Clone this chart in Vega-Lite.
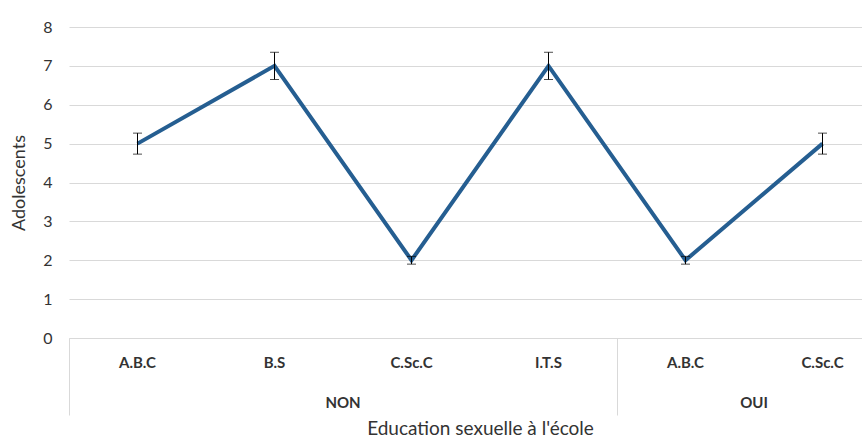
{
  "$schema": "https://vega.github.io/schema/vega-lite/v6.json",
  "autosize": "none",
  "width": 822,
  "height": 311,
  "padding": {"left": 69, "top": 27, "right": 0, "bottom": 110},
  "background": "white",
  "config": {
    "view": {"stroke": null},
    "font": "Lato",
    "axis": {"labelFont": "Lato", "titleFont": "Lato", "labelColor": "#333333", "titleColor": "#333333", "titleFontWeight": "normal"}
  },
  "data": {
    "values": [
      {"key": "NON|A.B.C", "group": "NON", "cat": "A.B.C", "value": 5, "lo": 4.73, "hi": 5.27},
      {"key": "NON|B.S", "group": "NON", "cat": "B.S", "value": 7, "lo": 6.65, "hi": 7.35},
      {"key": "NON|C.Sc.C", "group": "NON", "cat": "C.Sc.C", "value": 2, "lo": 1.9, "hi": 2.1},
      {"key": "NON|I.T.S", "group": "NON", "cat": "I.T.S", "value": 7, "lo": 6.65, "hi": 7.35},
      {"key": "OUI|A.B.C", "group": "OUI", "cat": "A.B.C", "value": 2, "lo": 1.9, "hi": 2.1},
      {"key": "OUI|C.Sc.C", "group": "OUI", "cat": "C.Sc.C", "value": 5, "lo": 4.73, "hi": 5.27}
    ]
  },
  "resolve": {"axis": {"x": "independent", "y": "independent"}},
  "layer": [
    {
      "mark": {"type": "line", "color": "#255E91", "strokeWidth": 4, "strokeJoin": "miter"},
      "encoding": {
        "x": {"field": "key", "type": "nominal", "sort": null,
          "scale": {"paddingInner": 0, "paddingOuter": 0},
          "axis": {"orient": "bottom", "title": null, "labelExpr": "split(datum.value, '|')[1]", "ticks": false, "domain": true, "domainColor": "#d9d9d9", "domainWidth": 1, "labelPadding": 17, "labelFontSize": 15, "labelFontWeight": "bold", "labelAngle": 0, "grid": false}},
        "y": {"field": "value", "type": "quantitative",
          "scale": {"domain": [0, 8], "nice": false},
          "axis": {"orient": "left", "title": "Adolescents", "values": [0,1,2,3,4,5,6,7,8], "ticks": false, "domain": false, "gridColor": "#d9d9d9", "gridWidth": 1, "labelPadding": 17, "labelFontSize": 16, "titleFontSize": 18, "titlePadding": 14}}
      }
    },
    {
      "mark": {"type": "errorbar", "ticks": {"size": 9, "color": "black", "thickness": 1}, "rule": {"color": "black", "strokeWidth": 1}},
      "encoding": {
        "x": {"field": "key", "type": "nominal", "sort": null,
          "axis": {"orient": "bottom", "title": null, "labels": false, "domain": false, "grid": false, "ticks": true, "bandPosition": 0, "tickSize": 77, "tickColor": "#d9d9d9", "tickWidth": 1,
            "tickOpacity": {"condition": {"test": "datum.value === 'NON|A.B.C' || datum.value === 'OUI|A.B.C'", "value": 1}, "value": 0}}},
        "y": {"field": "lo", "type": "quantitative", "axis": null},
        "y2": {"field": "hi"}
      }
    },
    {
      "mark": {"type": "point", "opacity": 0},
      "encoding": {
        "x": {"field": "key", "type": "nominal", "sort": null,
          "axis": {"orient": "bottom", "title": "Education sexuelle à l'école", "titleFontSize": 19, "titlePadding": 9, "labelExpr": "datum.value === 'NON|B.S' ? 'NON' : (datum.value === 'OUI|A.B.C' ? 'OUI' : '')", "labelOffset": 68.5, "ticks": false, "domain": false, "grid": false, "labelPadding": 57, "labelFontSize": 15, "labelFontWeight": "bold", "labelAngle": 0}},
        "y": {"field": "value", "type": "quantitative", "axis": null}
      }
    }
  ]
}
